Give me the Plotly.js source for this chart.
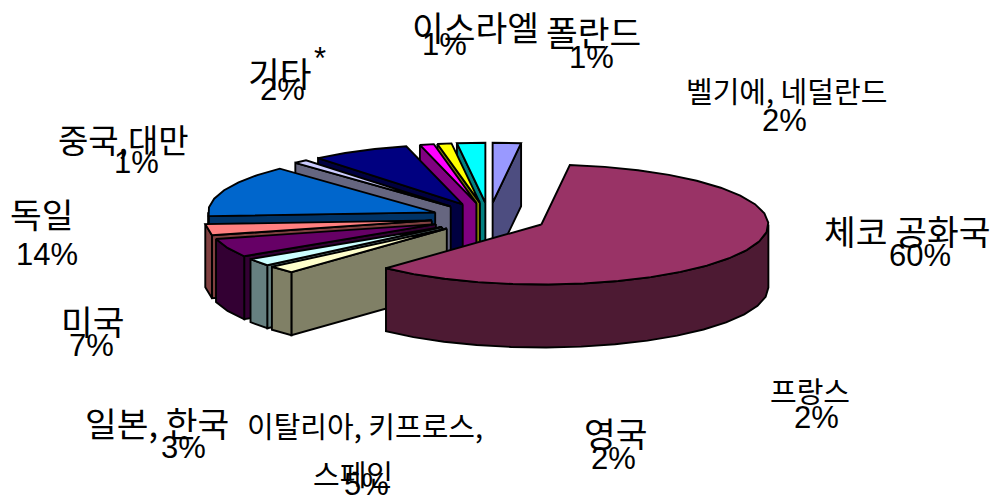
<!DOCTYPE html>
<html><head><meta charset="utf-8">
<script src="https://cdn.plot.ly/plotly-3.0.1.min.js"></script>
<style>html,body{margin:0;padding:0;background:#fff}#c{width:995px;height:503px}</style>
</head><body><div id="c"></div>
<script>
// Slices clockwise from 12 o'clock
const categories = ["벨기에, 네덜란드","체코 공화국","프랑스","영국","이탈리아, 키프로스,|스페인","일본, 한국","독일","중국,대만","미국","이스라엘","폴란드","기타"];
const values     = [2,60,2,2,5,3,14,1,7,1,1,2];
const topColors  = ["#9999ff","#993366","#ffffcc","#ccffff","#660066","#ff8080","#0066cc","#ccccff","#000080","#ff00ff","#ffff00","#00ffff"];
const wallColors = ["#4d4d80","#4d1a33","#808066","#668080","#330033","#804040","#003366","#666680","#000040","#800080","#808000","#008080"];
// Label placement, same order as categories: [name centre x, y ...], [percent centre x, y]
const nameX = [[786],[907],[810],[615],[365,353],[157],[41],[123],[92],[475],[593],[279]];
const nameY = [[90],[230],[390],[432],[425,473],[422],[213],[139],[320],[25.5],[31],[72]];
const nameSize = [29,34.5,29,34.5,29,34.5,34.5,33,34.5,34.5,34.5,34.5];
const pctX = [784,920,816,613,366,183,47,136,91,444,591,282];
const pctY = [120,255,417,458,484.5,447,254,162,345,44,57,89];

const CX=489, CY=218, A=227, B=60, DEPTH=63, EXPLODE=0.255, STEP=9;
const rad=d=>d*Math.PI/180;
const total=values.reduce((a,b)=>a+b,0);
const pt=(ox,oy,t,dz)=>[ox+A*Math.cos(rad(t)), oy-B*Math.sin(rad(t))+dz];

function arc(ox,oy,t1,t2,dz){ // t1 > t2, clockwise
  const n=Math.max(1,Math.round((t1-t2)/STEP)), out=[];
  for(let i=0;i<=n;i++) out.push(pt(ox,oy,t1+(t2-t1)*i/n,dz));
  return out;
}
function poly(points,fill){
  const c=points.concat([points[0]]);
  return {type:'scatter',mode:'lines',x:c.map(p=>p[0]),y:c.map(p=>p[1]),fill:'toself',fillcolor:fill,
    line:{color:'#000',width:1.9,shape:'linear'},hoverinfo:'skip',showlegend:false};
}
// angle bounds
let run=90; const slices=values.map((v,i)=>{const t1=run,t2=run-v/total*360;run=t2;return {i,t1,t2};});
const traces=[];
// paint order: first slice, then counter-clockwise round to the second slice (the big one last)
const order=[0,11,10,9,8,7,6,5,4,3,2,1];
order.forEach(k=>{
  const s=slices[k], mid=(s.t1+s.t2)/2;
  const ox=CX+EXPLODE*A*Math.cos(rad(mid)), oy=CY-EXPLODE*B*Math.sin(rad(mid));
  const wall=wallColors[k];
  // radial walls
  if(Math.cos(rad(s.t1))<0){const r=pt(ox,oy,s.t1,0);traces.push(poly([[ox,oy],r,[r[0],r[1]+DEPTH],[ox,oy+DEPTH]],wall));}
  if(Math.cos(rad(s.t2))>0){const r=pt(ox,oy,s.t2,0);traces.push(poly([[ox,oy],r,[r[0],r[1]+DEPTH],[ox,oy+DEPTH]],wall));}
  // outer wall: front half only
  const seg=(a,b)=>{ if(a-b>0.01){const top=arc(ox,oy,a,b,0),bot=arc(ox,oy,a,b,DEPTH).reverse();traces.push(poly(top.concat(bot),wall));}};
  [[360,180],[0,-180],[720,540]].forEach(([hi,lo])=>seg(Math.min(s.t1,hi),Math.max(s.t2,lo)));
  // top face
  traces.push(poly([[ox,oy]].concat(arc(ox,oy,s.t1,s.t2,0)),topColors[k]));
});

const latin='"Liberation Sans",Arial,sans-serif', hangul='"Noto Sans CJK KR","Liberation Sans",sans-serif';
const ann=(x,y,text,size,family)=>({x,y,xref:'x',yref:'y',text,showarrow:false,xanchor:'center',yanchor:'middle',
  font:{family,size,color:'#000'}});
const annotations=[];
categories.forEach((c,i)=>{
  c.split('|').forEach((line,j)=>annotations.push(ann(nameX[i][j],nameY[i][j],line,nameSize[i],hangul)));
  annotations.push(ann(pctX[i],pctY[i],values[i]+'%',31,latin));
});
annotations.push(ann(320,58,'*',31,latin));

Plotly.newPlot('c',traces,{
  width:995,height:503,margin:{l:0,r:0,t:0,b:0},paper_bgcolor:'#fff',plot_bgcolor:'#fff',showlegend:false,
  xaxis:{range:[0,995],visible:false,fixedrange:true},
  yaxis:{range:[503,0],visible:false,fixedrange:true},
  annotations
},{staticPlot:true,displayModeBar:false});
</script></body></html>
